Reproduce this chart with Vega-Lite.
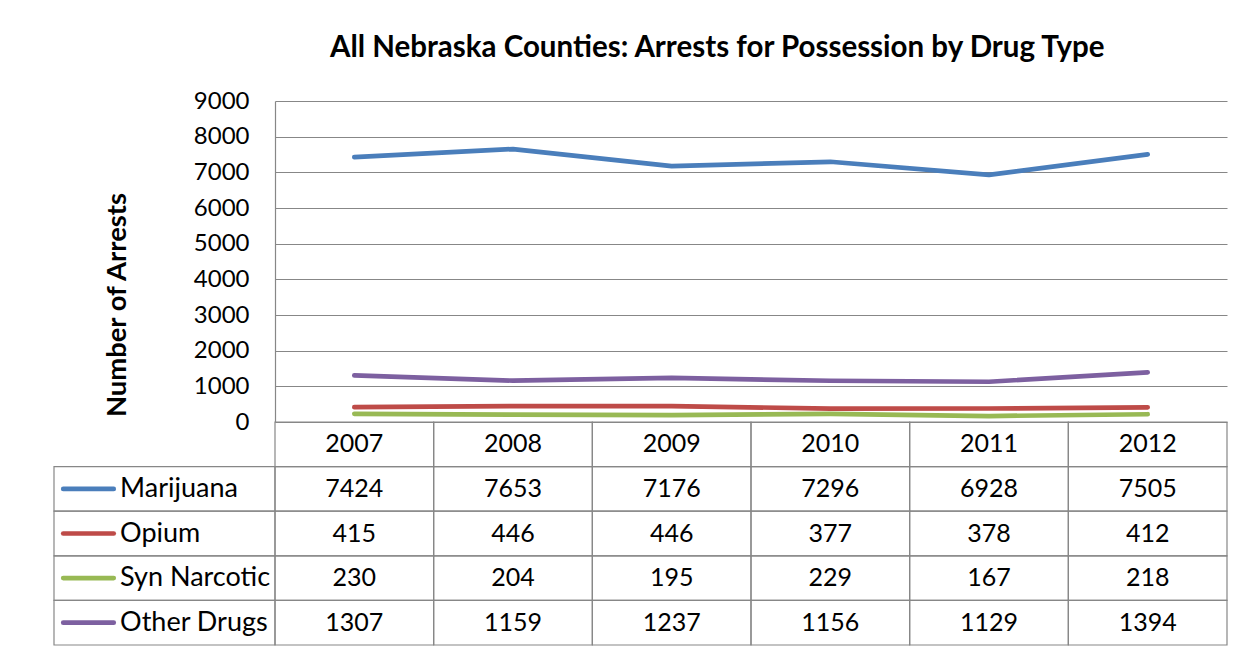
{
  "$schema": "https://vega.github.io/schema/vega-lite/v6.json",
  "autosize": {"type": "none"},
  "width": 952,
  "height": 321,
  "padding": {"left": 275, "top": 101, "right": 21, "bottom": 229},
  "background": "white",
  "config": {"view": {"stroke": null}, "font": "Lato"},
  "title": {
    "text": "All Nebraska Counties: Arrests for Possession by Drug Type",
    "anchor": "start",
    "frame": "group",
    "dx": 55,
    "offset": 3,
    "baseline": "alphabetic",
    "font": "Lato",
    "fontSize": 29.5,
    "fontWeight": "bold",
    "color": "black"
  },
  "datasets": {
    "arrests": [
      {"year": 2007, "drug": "Marijuana", "value": 7424},
      {"year": 2008, "drug": "Marijuana", "value": 7653},
      {"year": 2009, "drug": "Marijuana", "value": 7176},
      {"year": 2010, "drug": "Marijuana", "value": 7296},
      {"year": 2011, "drug": "Marijuana", "value": 6928},
      {"year": 2012, "drug": "Marijuana", "value": 7505},
      {"year": 2007, "drug": "Opium", "value": 415},
      {"year": 2008, "drug": "Opium", "value": 446},
      {"year": 2009, "drug": "Opium", "value": 446},
      {"year": 2010, "drug": "Opium", "value": 377},
      {"year": 2011, "drug": "Opium", "value": 378},
      {"year": 2012, "drug": "Opium", "value": 412},
      {"year": 2007, "drug": "Syn Narcotic", "value": 230},
      {"year": 2008, "drug": "Syn Narcotic", "value": 204},
      {"year": 2009, "drug": "Syn Narcotic", "value": 195},
      {"year": 2010, "drug": "Syn Narcotic", "value": 229},
      {"year": 2011, "drug": "Syn Narcotic", "value": 167},
      {"year": 2012, "drug": "Syn Narcotic", "value": 218},
      {"year": 2007, "drug": "Other Drugs", "value": 1307},
      {"year": 2008, "drug": "Other Drugs", "value": 1159},
      {"year": 2009, "drug": "Other Drugs", "value": 1237},
      {"year": 2010, "drug": "Other Drugs", "value": 1156},
      {"year": 2011, "drug": "Other Drugs", "value": 1129},
      {"year": 2012, "drug": "Other Drugs", "value": 1394}
    ],
    "years": [
      {"year": 2007}, {"year": 2008}, {"year": 2009},
      {"year": 2010}, {"year": 2011}, {"year": 2012}
    ],
    "drugs": [
      {"drug": "Marijuana"}, {"drug": "Opium"},
      {"drug": "Syn Narcotic"}, {"drug": "Other Drugs"}
    ]
  },
  "layer": [
    {
      "data": {"name": "arrests"},
      "mark": {"type": "line", "strokeWidth": 4.7, "strokeCap": "round", "strokeJoin": "round"},
      "encoding": {
        "x": {
          "field": "year", "type": "ordinal",
          "scale": {"type": "band", "domain": [2007, 2008, 2009, 2010, 2011, 2012], "paddingInner": 0, "paddingOuter": 0},
          "bandPosition": 0.5,
          "axis": null
        },
        "y": {
          "field": "value", "type": "quantitative",
          "scale": {"domain": [0, 9000]},
          "axis": {
            "values": [0, 1000, 2000, 3000, 4000, 5000, 6000, 7000, 8000, 9000],
            "format": "d",
            "grid": true, "gridColor": "#878787", "gridWidth": 1.2,
            "domain": true, "domainColor": "#878787", "domainWidth": 1.2,
            "ticks": false,
            "labelFont": "Lato", "labelFontSize": 24, "labelColor": "black",
            "labelPadding": 26, "labelOverlap": false,
            "title": "Number of Arrests",
            "titleFont": "Lato", "titleFontSize": 27.4, "titleFontWeight": "bold", "titleColor": "black",
            "titleAngle": -90, "titleX": -150, "titleY": 203.5,
            "titleAlign": "center", "titleBaseline": "alphabetic"
          }
        },
        "color": {
          "field": "drug", "type": "nominal",
          "scale": {"domain": ["Marijuana", "Opium", "Syn Narcotic", "Other Drugs"], "range": ["#4A7EBB", "#BE4B48", "#98B954", "#7D60A0"]},
          "legend": null
        }
      }
    },
    {
      "layer": [
        {
          "data": {"name": "arrests"},
          "mark": {"type": "rect", "fill": "transparent", "stroke": "#878787", "strokeWidth": 1.2},
          "encoding": {
            "x": {"field": "year", "type": "ordinal", "scale": {"type": "band", "domain": [2007, 2008, 2009, 2010, 2011, 2012], "paddingInner": 0, "paddingOuter": 0}, "axis": null},
            "y": {"field": "drug", "type": "nominal", "scale": {"type": "band", "domain": ["Year", "Marijuana", "Opium", "Syn Narcotic", "Other Drugs"], "range": [321, 544], "paddingInner": 0, "paddingOuter": 0}, "axis": null}
          }
        },
        {
          "data": {"name": "years"},
          "mark": {"type": "rect", "fill": "transparent", "stroke": "#878787", "strokeWidth": 1.2},
          "encoding": {
            "x": {"field": "year", "type": "ordinal", "axis": null},
            "y": {"datum": "Year", "type": "nominal", "axis": null}
          }
        },
        {
          "data": {"name": "arrests"},
          "mark": {"type": "text", "font": "Lato", "fontSize": 25, "color": "black", "align": "center", "baseline": "middle"},
          "encoding": {
            "x": {"field": "year", "type": "ordinal", "bandPosition": 0.5, "axis": null},
            "y": {"field": "drug", "type": "nominal", "bandPosition": 0.5, "axis": null},
            "text": {"field": "value", "type": "quantitative", "format": "d"}
          }
        },
        {
          "data": {"name": "years"},
          "mark": {"type": "text", "font": "Lato", "fontSize": 25, "color": "black", "align": "center", "baseline": "middle"},
          "encoding": {
            "x": {"field": "year", "type": "ordinal", "bandPosition": 0.5, "axis": null},
            "y": {"datum": "Year", "type": "nominal", "bandPosition": 0.5, "axis": null},
            "text": {"field": "year", "type": "nominal"}
          }
        }
      ]
    },
    {
      "layer": [
        {
          "data": {"name": "drugs"},
          "mark": {"type": "rect", "fill": "transparent", "stroke": "#878787", "strokeWidth": 1.2},
          "encoding": {
            "x": {"datum": "label", "type": "nominal", "scale": {"type": "band", "domain": ["label"], "range": [-221, 0], "paddingInner": 0, "paddingOuter": 0}, "axis": null},
            "y": {"field": "drug", "type": "nominal", "scale": {"type": "band", "domain": ["Year", "Marijuana", "Opium", "Syn Narcotic", "Other Drugs"], "range": [321, 544], "paddingInner": 0, "paddingOuter": 0}, "axis": null}
          }
        },
        {
          "data": {"name": "drugs"},
          "mark": {"type": "point", "shape": "stroke", "size": 2550, "strokeWidth": 4.7, "strokeCap": "round", "opacity": 1},
          "encoding": {
            "x": {"datum": "label", "type": "nominal", "bandPosition": 0.156, "axis": null},
            "y": {"field": "drug", "type": "nominal", "bandPosition": 0.5, "axis": null},
            "color": {"field": "drug", "type": "nominal", "legend": null}
          }
        },
        {
          "data": {"name": "drugs"},
          "mark": {"type": "text", "font": "Lato", "fontSize": 27, "color": "black", "align": "left", "baseline": "middle"},
          "encoding": {
            "x": {"datum": "label", "type": "nominal", "bandPosition": 0.299, "axis": null},
            "y": {"field": "drug", "type": "nominal", "bandPosition": 0.5, "axis": null},
            "text": {"field": "drug", "type": "nominal"}
          }
        }
      ]
    }
  ],
  "resolve": {"scale": {"x": "independent", "y": "independent"}}
}
